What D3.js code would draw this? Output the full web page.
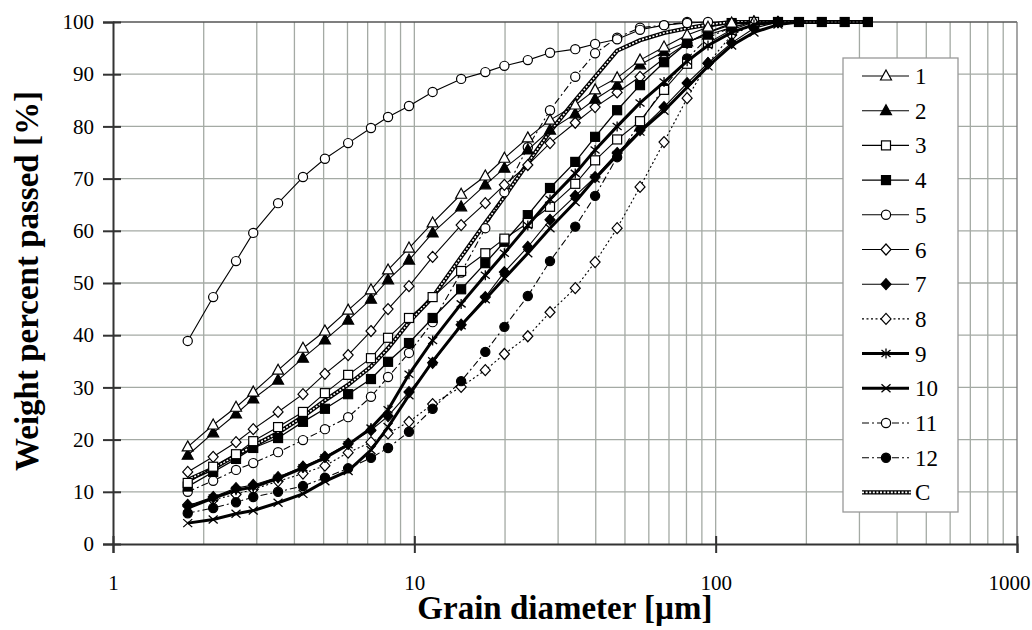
<!DOCTYPE html>
<html><head><meta charset="utf-8">
<script src="https://cdn.jsdelivr.net/npm/d3@7"></script>
<style>
body{margin:0;background:#fff}
svg{display:block}
</style>
</head><body>
<svg id="chart" width="1032" height="630"></svg>
<script>
// ---------------- data ----------------
const diameters = [1.77, 2.15, 2.56, 2.92, 3.53, 4.27, 5.05, 6.03, 7.18, 8.18, 9.6, 11.5, 14.3, 17.2, 19.9, 23.8, 28.2, 34.2, 39.8, 47.1, 56.1, 67.4, 80.4, 94.3, 113, 134, 161, 189, 225, 268, 320];
const s1  = [18.6, 22.8, 26.2, 29.1, 33.3, 37.5, 40.8, 44.8, 48.7, 52.5, 56.7, 61.5, 67.0, 70.5, 73.9, 77.8, 81.2, 84.1, 87.0, 89.3, 92.7, 95.2, 97.5, 99.0, 99.8, 100];
const s2  = [17.0, 21.3, 24.9, 27.8, 31.4, 35.6, 39.1, 42.9, 46.9, 50.6, 54.4, 59.6, 64.6, 68.8, 72.0, 75.5, 79.3, 82.4, 85.2, 87.9, 91.8, 94.3, 96.2, 97.5, 99.0, 100];
const s3  = [11.7, 14.8, 17.2, 19.7, 22.4, 25.3, 28.9, 32.4, 35.6, 39.5, 43.3, 47.3, 52.3, 55.7, 58.5, 61.5, 64.6, 69.0, 73.5, 77.5, 81.0, 87.0, 92.0, 96.0, 98.5, 100];
const s4  = [11.0, 13.8, 16.3, 18.4, 20.3, 23.4, 25.9, 28.7, 31.6, 34.9, 38.5, 43.3, 48.8, 53.8, 57.9, 63.0, 68.2, 73.2, 78.0, 83.1, 87.9, 92.3, 96.0, 98.0, 99.8, 100, 100, 100, 100, 100, 100];
const s5  = [38.9, 47.3, 54.2, 59.6, 65.3, 70.3, 73.8, 76.8, 79.7, 81.8, 83.9, 86.6, 89.1, 90.4, 91.6, 92.7, 94.1, 94.8, 95.8, 96.7, 98.5, 99.4, 99.8, 100];
const s6  = [13.8, 16.7, 19.5, 22.0, 25.3, 28.7, 32.6, 36.2, 40.8, 45.0, 49.4, 55.0, 61.1, 65.3, 68.8, 72.6, 76.8, 80.7, 83.7, 86.5, 89.5, 93.0, 96.0, 98.0, 99.5, 100];
const s7  = [7.3, 9.0, 10.7, 11.3, 12.8, 14.8, 16.7, 19.2, 21.8, 24.5, 29.1, 34.7, 42.0, 47.3, 52.1, 56.9, 62.1, 66.7, 70.3, 74.9, 79.3, 83.7, 88.3, 92.1, 96.0, 98.8, 100];
const s8  = [7.5, 8.5, 9.5, 10.5, 12.0, 13.5, 15.0, 17.5, 19.5, 21.2, 23.4, 26.8, 30.1, 33.3, 36.4, 39.8, 44.4, 49.0, 54.0, 60.5, 68.4, 77.0, 85.4, 92.1, 97.5, 99.5, 100];
const s9  = [6.9, 8.8, 10.3, 10.9, 12.6, 14.6, 16.5, 19.0, 22.2, 25.7, 32.5, 39.0, 46.0, 51.5, 55.7, 61.0, 66.0, 71.0, 75.5, 80.0, 84.5, 88.5, 92.5, 95.5, 98.0, 99.5, 100];
const s10 = [4.0, 4.7, 5.8, 6.4, 7.9, 9.6, 12.0, 14.0, 18.0, 22.4, 28.5, 35.0, 41.9, 46.9, 50.9, 55.7, 60.5, 65.5, 70.0, 74.5, 79.0, 83.0, 87.5, 91.5, 95.5, 98.0, 99.5, 100];
const s11 = [10.0, 12.1, 14.2, 15.5, 17.6, 19.9, 22.0, 24.3, 28.2, 32.0, 36.6, 42.5, 52.0, 60.5, 67.4, 76.0, 83.1, 89.5, 94.0, 97.0, 98.9, 99.4, 100];
const s12 = [5.9, 6.9, 8.0, 9.0, 10.0, 11.1, 12.7, 14.5, 16.5, 18.4, 21.5, 25.9, 31.2, 36.8, 41.6, 47.5, 54.2, 60.8, 66.7, 74.1, 80.7, 87.5, 93.0, 97.0, 99.0, 100];
const sC  = [12.3, 14.5, 17.0, 18.8, 21.3, 24.4, 27.5, 30.5, 34.0, 37.5, 42.5, 47.3, 55.0, 61.5, 66.5, 73.0, 79.0, 85.0, 89.5, 94.5, 96.5, 97.9, 98.8, 99.5, 100, 100, 100, 100, 100, 100, 100];
const seriesNames = ["1","2","3","4","5","6","7","8","9","10","11","12","C"];
const seriesValues = [s1,s2,s3,s4,s5,s6,s7,s8,s9,s10,s11,s12,sC];
const xTickValues = [1, 10, 100, 1000];
const yTickValues = [0, 10, 20, 30, 40, 50, 60, 70, 80, 90, 100];
const xTitle = "Grain diameter [\u00b5m]";
const yTitle = "Weight percent passed [%]";

// ---------------- styles ----------------
const FONT = "'Liberation Serif', 'DejaVu Serif', serif";
const styles = [
  {m:"tri",  fill:"#fff", w:1.1, dash:null},
  {m:"tri",  fill:"#000", w:1.1, dash:null},
  {m:"sq",   fill:"#fff", w:1.1, dash:null},
  {m:"sq",   fill:"#000", w:1.3, dash:null},
  {m:"circ", fill:"#fff", w:1.1, dash:null},
  {m:"dia",  fill:"#fff", w:1.1, dash:null},
  {m:"dia",  fill:"#000", w:1.1, dash:null},
  {m:"dia",  fill:"#fff", w:1.1, dash:"2,2.5"},
  {m:"ast",  fill:"none", w:3,   dash:null},
  {m:"x",    fill:"none", w:3,   dash:null},
  {m:"circ", fill:"#fff", w:1.1, dash:"7,3,2,3"},
  {m:"circ", fill:"#000", w:1.1, dash:"7,3,2,3"},
  {m:"chain",fill:"none", w:4,   dash:null}
];

const svg = d3.select("#chart").attr("font-family", FONT);
const x = d3.scaleLog().domain([1, 1000]).range([113, 1017]);
const y = d3.scaleLinear().domain([0, 100]).range([544, 22]);
const grid = "#a4aaa4";

// grid
const minorX = [];
[1,10,100].forEach(d => { for (let k = 1; k < 10; k++) minorX.push(d*k); });
svg.append("g").selectAll("line").data(minorX.filter(v => v > 1 && v < 1000)).join("line")
  .attr("x1", d => x(d)).attr("x2", d => x(d)).attr("y1", y(100)).attr("y2", y(0))
  .attr("stroke", grid).attr("stroke-width", 1.3);
svg.append("g").selectAll("line").data(yTickValues.filter(v => v > 0 && v < 100)).join("line")
  .attr("x1", x(1)).attr("x2", x(1000)).attr("y1", d => y(d)).attr("y2", d => y(d))
  .attr("stroke", grid).attr("stroke-width", 1.3);
// frame top / right
svg.append("line").attr("x1", x(1)).attr("x2", x(1000)).attr("y1", y(100)).attr("y2", y(100)).attr("stroke", "#555").attr("stroke-width", 1.5);
svg.append("line").attr("x1", x(1000)).attr("x2", x(1000)).attr("y1", y(100)).attr("y2", y(0)).attr("stroke", "#777").attr("stroke-width", 1.3);

// axes
const yAxis = svg.append("g").attr("transform", `translate(${x(1)},0)`)
  .call(d3.axisLeft(y).tickValues(yTickValues).tickSize(10).tickPadding(9).tickFormat(d3.format("d")));
yAxis.attr("font-family", FONT);
yAxis.select(".domain").attr("stroke", "#333").attr("stroke-width", 2);
yAxis.selectAll(".tick line").attr("stroke", "#333").attr("stroke-width", 2).attr("x2", 8).attr("x1", -10);
yAxis.selectAll(".tick text").attr("font-size", 21).attr("font-family", FONT).attr("fill", "#000");

const xAxis = svg.append("g").attr("transform", `translate(0,${y(0)})`)
  .call(d3.axisBottom(x).tickValues(xTickValues).tickSize(9).tickPadding(22).tickFormat(d3.format("d")));
xAxis.attr("font-family", FONT);
xAxis.select(".domain").attr("stroke", "#333").attr("stroke-width", 2);
xAxis.selectAll(".tick line").attr("stroke", "#333").attr("stroke-width", 2).attr("y1", -8).attr("y2", 9);
xAxis.selectAll(".tick text").attr("font-size", 21).attr("font-family", FONT).attr("fill", "#000")
  .attr("text-anchor", d => d === 1000 ? "end" : "middle").attr("x", d => d === 1000 ? 13 : 0);

// titles
svg.append("text").attr("x", x(31.6)).attr("y", 619).attr("text-anchor", "middle").attr("font-family", FONT)
  .attr("font-size", 33).attr("font-weight", "bold").text(xTitle);
svg.append("text").attr("transform", `translate(38,${y(50) - 2}) rotate(-90)`).attr("text-anchor", "middle").attr("font-family", FONT)
  .attr("font-size", 33).attr("font-weight", "bold").text(yTitle);

// markers
function marker(g, type, fill, cx, cy) {
  const s = g.append("g").attr("transform", `translate(${cx},${cy})`);
  if (type === "tri") s.append("path").attr("d", "M0,-6L5.5,4L-5.5,4Z").attr("fill", fill).attr("stroke", "#000").attr("stroke-width", 1.2);
  else if (type === "sq") s.append("rect").attr("x", -4.5).attr("y", -4.5).attr("width", 9).attr("height", 9).attr("fill", fill).attr("stroke", "#000").attr("stroke-width", 1.2);
  else if (type === "circ") s.append("circle").attr("r", 4.6).attr("fill", fill).attr("stroke", "#000").attr("stroke-width", 1.2);
  else if (type === "dia") s.append("path").attr("d", "M0,-5.5L5,0L0,5.5L-5,0Z").attr("fill", fill).attr("stroke", "#000").attr("stroke-width", 1.2);
  else if (type === "ast") s.append("path").attr("d", "M0,-5V5M-4.5,-3.5L4.5,3.5M-4.5,3.5L4.5,-3.5").attr("stroke", "#000").attr("stroke-width", 1.3);
  else if (type === "x") s.append("path").attr("d", "M-4.5,-4L4.5,4M-4.5,4L4.5,-4").attr("stroke", "#000").attr("stroke-width", 1.3);
}

const line = d3.line().x(d => x(d[0])).y(d => y(d[1]));
const plot = svg.append("g");
const order = [12, 7, 10, 11, 6, 5, 4, 3, 2, 1, 0, 8, 9];
order.forEach(i => {
  const st = styles[i];
  const pts = seriesValues[i].map((v, k) => [diameters[k], v]);
  const g = plot.append("g");
  if (st.m === "chain") {
    g.append("path").attr("d", line(pts)).attr("fill", "none").attr("stroke", "#000").attr("stroke-width", 4.2);
    g.append("path").attr("d", line(pts)).attr("fill", "none").attr("stroke", "#fff").attr("stroke-width", 1.6).attr("stroke-dasharray", "2,1.6");
    return;
  }
  g.append("path").attr("d", line(pts)).attr("fill", "none").attr("stroke", "#000")
    .attr("stroke-width", st.w).attr("stroke-dasharray", st.dash);
  pts.forEach(p => marker(g, st.m, st.fill, x(p[0]), y(p[1])));
});

// legend
const lg = svg.append("g");
lg.append("rect").attr("x", 843).attr("y", 58).attr("width", 115).attr("height", 454)
  .attr("fill", "#fff").attr("stroke", "#999").attr("stroke-width", 1.3);
seriesNames.forEach((name, i) => {
  const st = styles[i];
  const cy = 76 + i * 34.7;
  const g = lg.append("g");
  if (st.m === "chain") {
    g.append("line").attr("x1", 862).attr("x2", 911).attr("y1", cy).attr("y2", cy).attr("stroke", "#000").attr("stroke-width", 4.2);
    g.append("line").attr("x1", 862).attr("x2", 911).attr("y1", cy).attr("y2", cy).attr("stroke", "#fff").attr("stroke-width", 1.6).attr("stroke-dasharray", "2,1.6");
  } else {
    g.append("line").attr("x1", 862).attr("x2", 909).attr("y1", cy).attr("y2", cy)
      .attr("stroke", "#000").attr("stroke-width", st.w).attr("stroke-dasharray", st.dash);
    marker(g, st.m, st.fill, 886, cy);
  }
  g.append("text").attr("x", 915).attr("y", cy).attr("dy", "0.35em").attr("font-size", 23).attr("font-family", FONT).text(name);
});
</script>
</body></html>
